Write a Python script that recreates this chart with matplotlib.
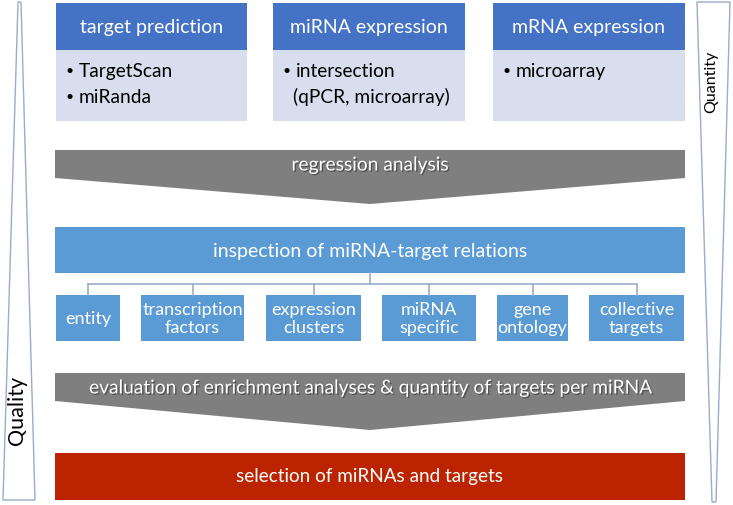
"""
miRNA target selection workflow diagram
"""

import matplotlib.pyplot as plt
from matplotlib.patches import Polygon, Rectangle
import matplotlib.patheffects as pe

plt.rcParams["font.family"] = ["Lato", "DejaVu Sans"]

# texts of the diagram
top_titles = ["target prediction", "miRNA expression", "mRNA expression"]
top_items = [
    ["TargetScan", "miRanda"],
    ["intersection", "(qPCR, microarray)"],
    ["microarray"],
]
step1 = "regression analysis"
step2 = "inspection of miRNA-target relations"
sub_labels = [
    "entity",
    "transcription\nfactors",
    "expression\nclusters",
    "miRNA\nspecific",
    "gene\nontology",
    "collective\ntargets",
]
step3 = "evaluation of enrichment analyses & quantity of targets per miRNA"
step4 = "selection of miRNAs and targets"
side_left = "Quality"
side_right = "Quantity"

# layout (pixels, y downwards)
W, H = 733, 506
top_x = [(56, 247), (273, 465), (493, 685)]
sub_x = [(56, 120), (141, 244), (266, 361), (382, 476), (497, 568), (589, 684)]
X0, X1 = 55, 685

c_head = "#4472C4"
c_body = "#D9DEEF"
c_gray = "#7F7F7F"
c_blue = "#5B9BD5"
c_red = "#BC2300"
c_edge = "#97AECB"

fig = plt.figure(figsize=(W / 100, H / 100), dpi=100)
ax = fig.add_axes([0, 0, 1, 1])
ax.set_xlim(0, W)
ax.set_ylim(H, 0)
ax.axis("off")

shadow = [pe.withSimplePatchShadow(offset=(1, -1), shadow_rgbFace="black", alpha=0.35)]

# side wedges
ax.add_patch(Polygon([(18, 3), (21, 3), (35, 501), (3, 501)], closed=True,
                     facecolor="white", edgecolor=c_edge, lw=1))
ax.add_patch(Polygon([(697, 3), (730, 3), (716, 503), (712, 503)], closed=True,
                     facecolor="white", edgecolor=c_edge, lw=1))
ax.text(17, 410, side_left, rotation=90, ha="center", va="center",
        fontsize=15.5, color="black")
ax.text(711, 82, side_right, rotation=90, ha="center", va="center",
        fontsize=11.5, color="black")

# top three boxes
for (x0, x1), title, items in zip(top_x, top_titles, top_items):
    ax.add_patch(Rectangle((x0, 4), x1 - x0, 47, facecolor=c_head, edgecolor="none"))
    ax.add_patch(Rectangle((x0, 51), x1 - x0, 71, facecolor=c_body, edgecolor="none"))
    ax.text((x0 + x1) / 2, 27, title, ha="center", va="center",
            fontsize=14, color="white")
    for i, it in enumerate(items):
        y = 71 + 26 * i
        if it.startswith("("):
            ax.text(x0 + 20, y, it, ha="left", va="center", fontsize=13.8)
        else:
            ax.text(x0 + 14, y, "\u2022", ha="center", va="center", fontsize=10)
            ax.text(x0 + 23, y, it, ha="left", va="center", fontsize=13.8)

# arrows
def chevron(ytop, yside, ytip, label):
    ax.add_patch(Polygon([(X0, ytop), (X1, ytop), (X1, yside), (370, ytip), (X0, yside)],
                         closed=True, facecolor=c_gray, edgecolor="none"))
    ax.text(370, (ytop + yside) / 2 + 1, label, ha="center", va="center",
            fontsize=13.8, color="white", path_effects=shadow)

chevron(151, 179, 205, step1)

# inspection bar
ax.add_patch(Rectangle((X0, 228), X1 - X0, 46, facecolor=c_blue, edgecolor="none"))
ax.text(370, 251, step2, ha="center", va="center", fontsize=14, color="white")

# connector lines
cx = [(a + b) / 2 for a, b in sub_x]
ax.plot([370, 370], [274, 285], color=c_edge, lw=1.2)
ax.plot([cx[0], cx[-1]], [285, 285], color=c_edge, lw=1.2)
for x in cx:
    ax.plot([x, x], [285, 296], color=c_edge, lw=1.2)

# sub boxes
for (x0, x1), lab in zip(sub_x, sub_labels):
    ax.add_patch(Rectangle((x0, 296), x1 - x0, 46, facecolor=c_blue, edgecolor="none"))
    ax.text((x0 + x1) / 2, 319, lab, ha="center", va="center", fontsize=13,
            color="white", linespacing=1.2)

chevron(374, 402, 431, step3)

# final bar
ax.add_patch(Rectangle((X0, 454), X1 - X0, 47, facecolor=c_red, edgecolor="none"))
ax.text(370, 477, step4, ha="center", va="center", fontsize=13.6, color="white")

fig.savefig("out.png", dpi=100)
